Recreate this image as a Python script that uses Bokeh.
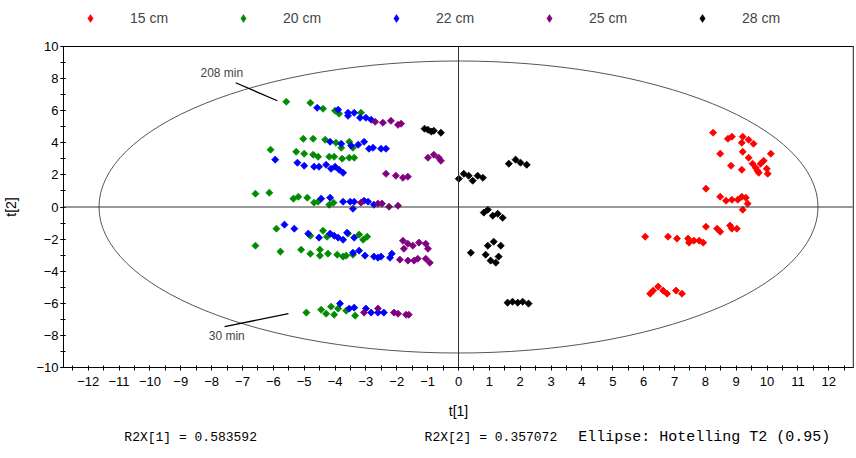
import math
from bokeh.plotting import figure
from bokeh.layouts import column
from bokeh.models import Range1d, FixedTicker, Span, Label, Legend, LegendItem
from bokeh.core.properties import value
from bokeh.embed import file_html
from bokeh.resources import INLINE

# ---------------- data ----------------
series_labels = ["15 cm", "20 cm", "22 cm", "25 cm", "28 cm"]
series_colors = ["#FF0000", "#008C00", "#0000FF", "#800080", "#000000"]

x_15 = [8.25, 8.73, 8.86, 9.21, 9.18, 9.40, 9.56, 8.48, 9.21, 9.40, 8.83, 9.18, 9.53, 9.63,
        9.79, 9.89, 10.12, 9.73, 9.99, 10.02, 9.69, 8.02, 8.48, 8.67, 8.86, 9.05, 9.18, 9.31,
        9.37, 9.21, 8.02, 8.38, 8.48, 8.80, 8.86, 9.02, 6.05, 6.79, 7.08, 7.44, 7.47, 7.63,
        7.80, 7.93, 6.21, 6.31, 6.47, 6.63, 6.76, 7.05, 7.24]
y_15 = [4.63, 4.25, 4.38, 4.38, 4.00, 4.19, 3.94, 3.32, 3.44, 3.07, 2.57, 2.32, 2.70, 2.45,
        2.70, 2.88, 3.32, 2.13, 2.38, 2.07, 2.26, 1.14, 0.64, 0.39, 0.45, 0.45, 0.64, 0.58,
        0.21, -0.17, -1.23, -1.35, -1.54, -1.16, -1.35, -1.35, -1.85, -1.85, -1.97, -1.97, -2.22, -2.10,
        -2.10, -2.22, -5.40, -5.21, -4.96, -5.21, -5.40, -5.21, -5.40]

x_20 = [-5.58, -4.80, -4.39, -4.00, -3.87, -3.16,
        -5.03, -4.71, -4.32, -3.97, -3.80, -3.54, -3.42,
        -6.09, -5.26, -5.00, -4.71, -4.55, -4.19, -4.03, -3.77, -3.54, -3.38,
        -6.58, -6.13, -5.35, -5.19, -4.90, -4.68, -4.55, -4.19, -4.05,
        -5.90, -4.80, -4.39, -4.26, -3.58, -3.22, -3.09, -2.96,
        -6.58, -5.77, -5.10, -4.80, -4.49, -4.49, -4.23, -3.93, -3.74, -3.64, -3.42,
        -4.93, -4.45, -4.29, -4.13, -4.03, -3.90, -3.64, -3.35]
y_20 = [6.56, 6.49, 6.12, 6.00, 5.81, 5.87,
        4.25, 4.25, 4.19, 4.00, 3.69, 4.06, 3.69,
        3.57, 3.44, 3.32, 3.26, 3.13, 3.13, 3.13, 3.01, 3.07, 3.07,
        0.83, 0.89, 0.52, 0.64, 0.58, 0.27, 0.33, 0.14, 0.27,
        -1.35, -1.79, -1.48, -1.85, -1.66, -1.72, -2.04, -1.85,
        -2.41, -2.78, -2.66, -2.91, -2.66, -3.03, -2.91, -2.97, -3.09, -3.03, -2.97,
        -6.58, -6.40, -6.65, -6.21, -6.71, -6.33, -6.46, -6.77]

x_22 = [-4.58, -3.90, -3.58, -3.58, -3.38, -3.19, -3.00, -2.83,
        -4.16, -3.80, -3.48, -3.25, -3.06, -2.90, -2.77, -2.51, -2.35,
        -5.94, -5.22, -5.00, -4.68, -4.52, -4.29, -4.13, -4.00, -3.87, -3.74,
        -4.45, -4.16, -3.74, -3.51, -3.38, -3.42, -3.06, -2.93, -2.74,
        -5.64, -5.32, -4.87, -4.52, -4.16, -4.03, -3.90, -3.74, -3.61, -3.38,
        -3.42, -3.22, -3.03, -2.74, -2.61, -2.51, -2.22, -2.16,
        -3.84, -3.54, -3.38, -3.00, -2.83, -2.61, -2.42]
y_22 = [6.18, 6.06, 5.87, 5.68, 5.87, 5.56, 5.56, 5.44,
        4.06, 3.94, 3.82, 3.88, 4.06, 3.63, 3.69, 3.63, 3.63,
        2.95, 2.76, 2.57, 2.51, 2.51, 2.63, 2.38, 2.51, 2.32, 2.13,
        0.52, 0.58, 0.33, 0.33, 0.33, -0.11, 0.39, 0.33, 0.14,
        -1.10, -1.35, -1.66, -1.91, -1.66, -1.79, -1.91, -2.04, -1.60, -1.91,
        -2.85, -2.72, -3.03, -3.09, -3.16, -3.09, -3.16, -2.91,
        -6.02, -6.33, -6.27, -6.33, -6.58, -6.58, -6.58]

x_25 = [-2.70, -2.45, -2.19, -1.96, -1.86,
        -0.99, -0.80, -0.64, -0.57,
        -2.35, -2.03, -1.80, -1.64,
        -3.16, -2.61, -2.48, -2.25, -1.96,
        -1.80, -1.64, -1.48, -1.28, -1.06, -0.99, -1.77,
        -1.90, -1.64, -1.44, -1.32, -1.06, -0.93,
        -3.06, -2.61, -2.09, -1.96, -1.70, -1.61]
y_25 = [5.31, 5.25, 5.37, 5.12, 5.19,
        3.07, 3.26, 3.07, 2.88,
        2.07, 1.95, 1.82, 1.89,
        0.27, 0.21, 0.21, 0.02, 0.08,
        -2.10, -2.29, -2.41, -2.22, -2.29, -2.60, -2.60,
        -3.28, -3.34, -3.34, -3.22, -3.22, -3.47,
        -6.58, -6.33, -6.58, -6.65, -6.71, -6.71]

x_28 = [-1.10, -0.99, -0.88, -0.80, -0.57,
        0.01, 0.17, 0.33, 0.46, 0.62, 0.79,
        1.63, 1.85, 2.01, 2.21,
        0.82, 0.95, 1.11, 1.27, 1.43,
        0.40, 0.95, 1.14, 1.37, 0.88, 1.04, 1.21, 1.30,
        1.59, 1.75, 1.92, 2.08, 2.27]
y_28 = [4.88, 4.81, 4.70, 4.75, 4.63,
        1.76, 2.07, 1.95, 1.64, 1.95, 1.82,
        2.70, 2.95, 2.76, 2.63,
        -0.35, -0.17, -0.54, -0.42, -0.67,
        -2.85, -2.41, -2.16, -2.41, -2.97, -3.34, -3.47, -3.09,
        -5.96, -5.90, -5.96, -5.90, -6.02]

x_tick_values = list(range(-12, 13))
y_tick_values = list(range(-10, 11, 2))
x_axis_title = "t[1]"
y_axis_title = "t[2]"
footer_texts = ["R2X[1] = 0.583592", "R2X[2] = 0.357072", "Ellipse: Hotelling T2 (0.95)"]
ellipse_semi_x = 11.65   # Hotelling T2 ellipse semi-axes
ellipse_semi_y = 9.1
time_labels = ["208 min", "30 min"]

xs = [x_15, x_20, x_22, x_25, x_28]
ys = [y_15, y_20, y_22, y_25, y_28]

FONT = "Liberation Sans"
W = 856
TOP_H, MAIN_H, FOOT_H = 30, 394, 32
FRAME_L, FRAME_R = 61, 853   # page pixels of the aligned plot frames

MARK = dict(marker="square", angle=math.pi / 4, size=5, line_width=0.8)

# ---------------- legend strip ----------------
top = figure(width=W, height=TOP_H, output_backend="svg", toolbar_location=None,
             x_range=Range1d(FRAME_L, FRAME_R), y_range=Range1d(0, TOP_H),
             min_border_left=0, min_border_right=0, min_border_top=0, min_border_bottom=0)
top.axis.visible = False
top.grid.visible = False
top.outline_line_color = None
leg_items = []
for lab, col in zip(series_labels, series_colors):
    # one off-screen point so the legend can draw its marker
    r = top.scatter(x=[-1000], y=[-1000], marker="diamond", size=9,
                    fill_color=col, line_color=col, line_width=0.5)
    leg_items.append(LegendItem(label=lab, renderers=[r]))
legend = Legend(items=leg_items, orientation="horizontal", location=(17, 1),
                border_line_color=None, background_fill_alpha=0,
                padding=0, margin=0, spacing=63, glyph_width=20, glyph_height=22,
                label_standoff=30, label_width=40,
                label_text_font=FONT, label_text_font_size="14px")
top.add_layout(legend)

# ---------------- main plot ----------------
p = figure(width=W, height=MAIN_H, output_backend="svg", toolbar_location=None,
           x_range=Range1d(-12.8, 12.8), y_range=Range1d(-10, 10),
           min_border_left=61, min_border_right=3, min_border_top=16, min_border_bottom=57)
p.grid.visible = False
p.outline_line_color = "black"
p.outline_line_width = 1

p.xaxis.ticker = FixedTicker(ticks=x_tick_values,
                             minor_ticks=[t + 0.5 for t in range(-13, 13)])
p.yaxis.ticker = FixedTicker(ticks=y_tick_values, minor_ticks=list(range(-10, 11)))
for ax in (p.xaxis, p.yaxis):
    ax.axis_line_color = "black"
    ax.major_tick_line_color = "black"
    ax.minor_tick_line_color = "black"
    ax.major_label_text_font = FONT
    ax.major_label_text_font_size = "13px"
    ax.major_label_text_color = "black"
    ax.axis_label_text_font = FONT
    ax.axis_label_text_font_size = "14px"
    ax.axis_label_text_font_style = "normal"
    ax.axis_label_text_color = "black"
    ax.major_tick_in = 2
    ax.major_tick_out = 3
    ax.minor_tick_in = 2
    ax.minor_tick_out = 3
p.xaxis.major_label_standoff = 6
p.yaxis.major_label_standoff = 2
p.xaxis.axis_label = x_axis_title
p.yaxis.axis_label = y_axis_title
p.xaxis.axis_label_standoff = 14
p.yaxis.axis_label_standoff = 14

p.add_layout(Span(location=0, dimension="height", line_color="#333333", line_width=1))
p.add_layout(Span(location=0, dimension="width", line_color="#333333", line_width=1))
p.add_layout(Span(location=12.8, dimension="height", line_color="#999999", line_width=2))

p.ellipse(x=[0], y=[0], width=[2 * ellipse_semi_x], height=[2 * ellipse_semi_y],
          fill_color=None, line_color="#555555", line_width=1)

for col, xv, yv in zip(series_colors, xs, ys):
    p.scatter(x=xv, y=yv, fill_color=col, line_color=col, **MARK)

p.segment(x0=[-7.22], y0=[7.74], x1=[-5.87], y1=[6.62], line_color="black", line_width=1.3)
p.segment(x0=[-7.58], y0=[-7.45], x1=[-5.51], y1=[-6.65], line_color="black", line_width=1.3)
p.add_layout(Label(x=-7.67, y=8.36, text=time_labels[0], text_align="center",
                   text_baseline="middle", text_font=FONT, text_font_size="12px"))
p.add_layout(Label(x=-7.51, y=-8.01, text=time_labels[1], text_align="center",
                   text_baseline="middle", text_font=FONT, text_font_size="12px"))

# ---------------- footer strip ----------------
foot = figure(width=W, height=FOOT_H, output_backend="svg", toolbar_location=None,
              x_range=Range1d(FRAME_L, FRAME_R), y_range=Range1d(0, FOOT_H),
              min_border_left=0, min_border_right=0, min_border_top=0, min_border_bottom=0)
foot.axis.visible = False
foot.grid.visible = False
foot.outline_line_color = None
foot_x = [122, 423, 577]
foot_sizes = ["13px", "13px", "15px"]
for fx, txt, fs in zip(foot_x, footer_texts, foot_sizes):
    foot.text(x=[fx], y=[FOOT_H - 13], text=[txt], text_baseline="middle", text_align="left",
              text_font=value("Liberation Mono"), text_font_size=fs, text_color="black")

layout = column(top, p, foot, spacing=0)
open("out.html", "w").write(file_html(layout, INLINE))
